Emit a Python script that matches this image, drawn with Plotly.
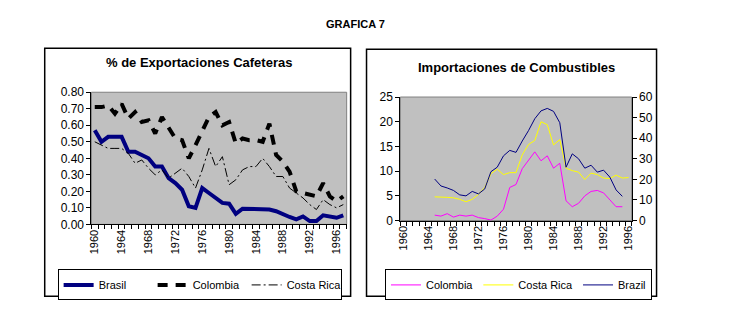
import plotly.graph_objects as go

W, H = 739, 331

# ---------------- data ----------------
years_exp = list(range(1960, 1998))
brasil_exp = [0.57, 0.50, 0.53, 0.53, 0.53, 0.44, 0.44, 0.42, 0.40, 0.35,
              0.35, 0.28, 0.25, 0.21, 0.11, 0.10, 0.22, 0.19, 0.16, 0.13,
              0.125, 0.064, 0.095, 0.095, 0.095, 0.09, 0.09, 0.08, 0.06, 0.045,
              0.03, 0.048, 0.02, 0.02, 0.055, 0.048, 0.04, 0.055]
colombia_exp = [0.71, 0.71, 0.72, 0.67, 0.73, 0.64, 0.68, 0.62, 0.63, 0.55,
                0.65, 0.59, 0.52, 0.51, 0.40, 0.48, 0.56, 0.65, 0.68, 0.60,
                0.62, 0.49, 0.52, 0.51, 0.51, 0.50, 0.61, 0.42, 0.38, 0.32,
                0.20, 0.19, 0.18, 0.17, 0.25, 0.17, 0.14, 0.17]
costarica_exp = [0.50, 0.48, 0.46, 0.46, 0.46, 0.43, 0.37, 0.39, 0.34, 0.30,
                 0.33, 0.28, 0.31, 0.34, 0.29, 0.22, 0.33, 0.46, 0.35, 0.41,
                 0.24, 0.27, 0.33, 0.35, 0.35, 0.40, 0.35, 0.29, 0.29, 0.22,
                 0.19, 0.16, 0.12, 0.09, 0.15, 0.12, 0.10, 0.12]

years_imp = list(range(1965, 1997))
colombia_imp = [1.1, 0.9, 1.4, 0.7, 1.1, 0.9, 1.1, 0.6, 0.4, 0.1,
                0.9, 2.3, 6.7, 7.3, 10.5, 12.3, 13.9, 12.1, 13.1, 10.6,
                11.6, 4.0, 2.8, 3.5, 5.0, 5.9, 6.1, 5.6, 4.1, 2.8,
                2.8, None]
costarica_imp = [4.8, 4.8, 4.7, 4.6, 4.3, 3.8, 4.3, 5.3, 6.7, 9.5,
                 10.4, 9.3, 9.7, 9.7, 13.3, 15.4, 16.2, 20.0, 19.4, 15.3,
                 16.4, 10.6, 10.1, 9.8, 8.3, 9.6, 9.3, 8.6, 8.5, 9.2,
                 8.6, 8.7]
brazil_imp = [8.4, 7.0, 6.6, 6.1, 5.2, 5.0, 5.9, 5.4, 6.4, 9.9,
              10.8, 13.1, 14.2, 13.8, 16.1, 18.2, 20.6, 22.2, 22.7, 22.1,
              19.8, 10.8, 13.5, 12.5, 10.6, 11.2, 9.8, 10.2, 8.8, 6.2,
              4.9, None]

exp_ticks = list(range(1960, 1997, 4))
FONT = "Liberation Sans, Arial, sans-serif"

def px(x):
    return x / W

def py(y):
    return 1 - y / H

fig = go.Figure()

# left panel
fig.add_trace(go.Scatter(x=years_exp, y=brasil_exp, name="Brasil", mode="lines",
                         line=dict(color="#000080", width=4), xaxis="x", yaxis="y",
                         legend="legend"))
fig.add_trace(go.Scatter(x=years_exp, y=colombia_exp, name="Colombia", mode="lines",
                         line=dict(color="black", width=4, dash="10px,8px"), xaxis="x", yaxis="y",
                         legend="legend"))
fig.add_trace(go.Scatter(x=years_exp, y=costarica_exp, name="Costa Rica", mode="lines",
                         line=dict(color="black", width=1, dash="9px,3px,2px,3px"), xaxis="x", yaxis="y",
                         legend="legend"))

# right panel
fig.add_trace(go.Scatter(x=years_imp, y=colombia_imp, name="Colombia", mode="lines",
                         line=dict(color="#ff00ff", width=1), xaxis="x2", yaxis="y2",
                         legend="legend2"))
fig.add_trace(go.Scatter(x=years_imp, y=costarica_imp, name="Costa Rica", mode="lines",
                         line=dict(color="#ffff00", width=1), xaxis="x2", yaxis="y2",
                         legend="legend2"))
fig.add_trace(go.Scatter(x=years_imp, y=brazil_imp, name="Brazil", mode="lines",
                         line=dict(color="#000080", width=1), xaxis="x2", yaxis="y2",
                         legend="legend2"))

tickfont = dict(family=FONT, size=12, color="black")
xtickfont = dict(family=FONT, size=11, color="black")

def xaxis(domain, rng, nb):
    return dict(domain=domain, range=rng, tickvals=exp_ticks, tickangle=-90,
                ticks="", showline=True, linecolor="black", linewidth=1,
                showgrid=False, zeroline=False, tickfont=xtickfont,
                fixedrange=True,
                minor=dict(tickvals=[1959.5 + i for i in range(nb + 1)], ticks="outside",
                           ticklen=4, tickcolor="black", tickwidth=1, showgrid=False))

fig.update_layout(
    width=W, height=H,
    margin=dict(l=0, r=0, t=0, b=0),
    paper_bgcolor="white",
    plot_bgcolor="#c0c0c0",
    font=dict(family=FONT, color="black"),
    xaxis=xaxis([px(89), px(346)], [1959.5, 1997.5], 38),
    yaxis=dict(domain=[py(227), py(89)], range=[0, 0.8], dtick=0.1, tickformat=".2f",
               ticks="outside", ticklen=4, tickcolor="black", showline=True,
               linecolor="black", showgrid=False, zeroline=False, tickfont=tickfont,
               anchor="x", fixedrange=True),
    xaxis2=xaxis([px(400), px(633)], [1959.5, 1996.5], 37) | dict(anchor="y2"),
    yaxis2=dict(domain=[py(223), py(94)], range=[0, 25], dtick=5,
                ticks="outside", ticklen=4, tickcolor="black", showline=True,
                linecolor="black", showgrid=False, zeroline=False, tickfont=tickfont,
                anchor="x2", fixedrange=True),
    yaxis3=dict(range=[0, 60], dtick=10, overlaying="y2", side="right", anchor="x2",
                ticks="outside", ticklen=4, tickcolor="black", showline=True,
                linecolor="black", showgrid=False, zeroline=False, tickfont=tickfont,
                fixedrange=True),
    legend=dict(orientation="h", x=px(55), y=py(274), xanchor="left", yanchor="top",
                bgcolor="white", bordercolor="black", borderwidth=1,
                font=dict(family=FONT, size=11), itemwidth=30,
                entrywidth=49, entrywidthmode="pixels",
                tracegroupgap=0),
    legend2=dict(orientation="h", x=px(519), y=py(274), xanchor="center", yanchor="top",
                 bgcolor="white", bordercolor="black", borderwidth=1,
                 font=dict(family=FONT, size=11), itemwidth=30),
    showlegend=True,
)

# invisible trace to register yaxis3
fig.add_trace(go.Scatter(x=[1960], y=[0], xaxis="x2", yaxis="y3", mode="markers",
                         marker=dict(opacity=0), showlegend=False, hoverinfo="skip"))

shapes = [
    # panel frames
    dict(type="rect", xref="paper", yref="paper", x0=px(42), x1=px(350), y0=py(302), y1=py(43),
         line=dict(color="black", width=1.5), layer="below"),
    dict(type="rect", xref="paper", yref="paper", x0=px(366), x1=px(658), y0=py(302), y1=py(44),
         line=dict(color="black", width=1.5), layer="below"),
    # plot-area borders
    dict(type="rect", xref="paper", yref="paper", x0=px(89), x1=px(346), y0=py(227), y1=py(89),
         line=dict(color="#808080", width=1), layer="below"),
    dict(type="rect", xref="paper", yref="paper", x0=px(400), x1=px(633), y0=py(223), y1=py(94),
         line=dict(color="#808080", width=1), layer="below"),
]
fig.update_layout(shapes=shapes)

annotations = [
    dict(text="<b>GRAFICA 7</b>", x=px(355), y=py(18), xref="paper", yref="paper",
         xanchor="center", yanchor="middle",
         showarrow=False, font=dict(family=FONT, size=11, color="black")),
    dict(text="<b>% de Exportaciones Cafeteras</b>", x=px(197), y=py(58), xref="paper", yref="paper",
         xanchor="center", yanchor="middle",
         showarrow=False, font=dict(family=FONT, size=13, color="black")),
    dict(text="<b>Importaciones de Combustibles</b>", x=px(517), y=py(63), xref="paper", yref="paper",
         xanchor="center", yanchor="middle",
         showarrow=False, font=dict(family=FONT, size=13, color="black")),
]
fig.update_layout(annotations=annotations)

fig.write_html("out.html")
